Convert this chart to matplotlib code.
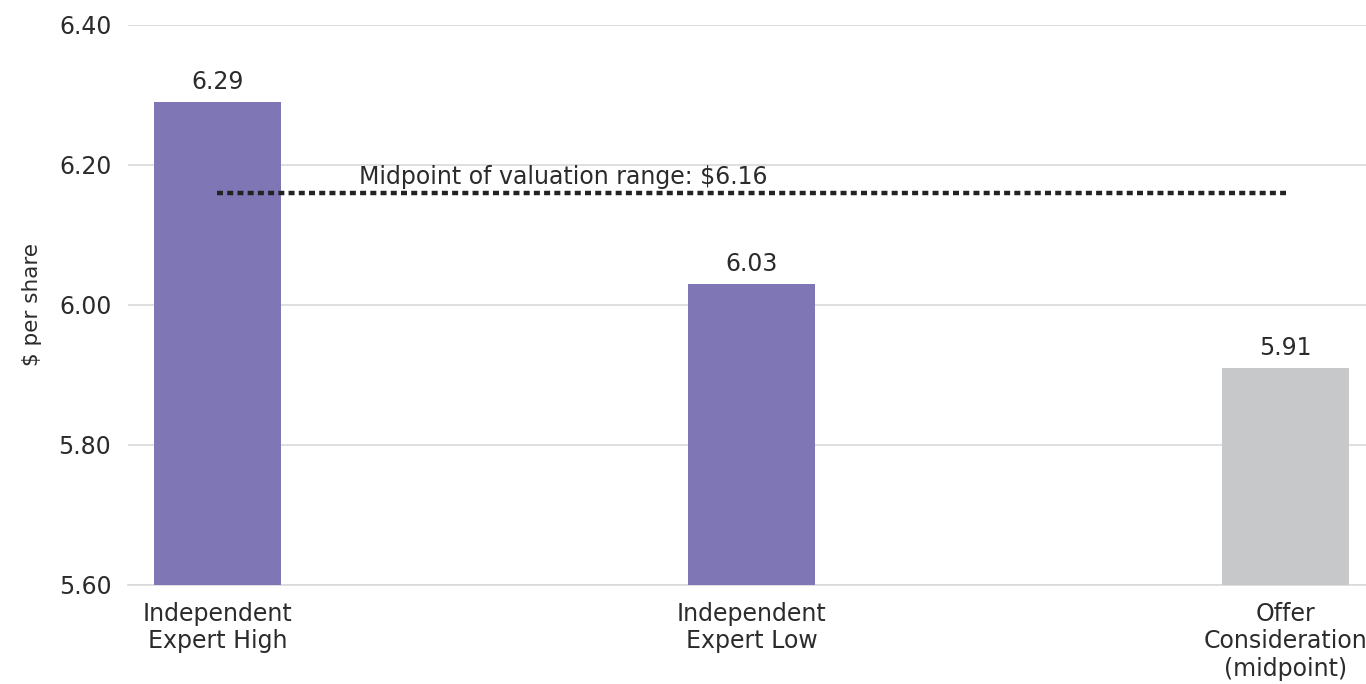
import matplotlib
matplotlib.use("Agg")
import matplotlib.pyplot as plt

# Data
categories = ["Independent\nExpert High", "Independent\nExpert Low", "Offer\nConsideration\n(midpoint)"]
values = [6.29, 6.03, 5.91]
bar_colors = ["#7f76b6", "#7f76b6", "#c7c8ca"]
midpoint_value = 6.16
midpoint_label = "Midpoint of valuation range: $6.16"
y_ticks = [5.60, 5.80, 6.00, 6.20, 6.40]
y_label = "$ per share"

plt.rcParams["font.family"] = ["DejaVu Sans"]
text_color = "#2b2b2b"
grid_color = "#d9d9d9"
fs = 17

fig = plt.figure(figsize=(13.66, 6.84), dpi=100)
W, H = 1366, 684
left_px, right_px, top_px, bottom_px = 128, 1375, 25, 585
ax = fig.add_axes([left_px / W, 1 - bottom_px / H,
                   (right_px - left_px) / W, (bottom_px - top_px) / H])

x = list(range(len(categories)))
bars = ax.bar(x, values, width=0.238, color=bar_colors, zorder=3)

ax.set_xlim(-0.1676, 2.1676)
ax.set_ylim(y_ticks[0], y_ticks[-1])
ax.set_yticks(y_ticks)
ax.set_yticklabels([f"{t:.2f}" for t in y_ticks], fontsize=fs, color=text_color)
ax.set_xticks(x)
ax.set_xticklabels(categories, fontsize=fs, color=text_color, linespacing=1.2)
ax.tick_params(axis="both", length=0)
ax.tick_params(axis="y", pad=12)
ax.tick_params(axis="x", pad=12)

ax.grid(axis="y", color=grid_color, linewidth=1.2, zorder=0)
ax.set_axisbelow(True)
for side in ["top", "right", "left"]:
    ax.spines[side].set_visible(False)
ax.spines["bottom"].set_color(grid_color)
ax.spines["bottom"].set_linewidth(1.2)

ax.set_ylabel(y_label, fontsize=fs - 1.5, color=text_color, labelpad=12)

# Value labels above each bar
for xi, v in zip(x, values):
    ax.annotate(f"{v:.2f}", (xi, v), xytext=(0, 6), textcoords="offset points",
                ha="center", va="bottom", fontsize=fs, color=text_color, zorder=4)

# Dotted midpoint line across the valuation range
ax.plot([x[0], x[-1]], [midpoint_value, midpoint_value], color="#222222",
        linewidth=3.2, linestyle=(0, (1.35, 0.95)), dash_capstyle="butt", zorder=4)
ax.annotate(midpoint_label, (0.265, midpoint_value), xytext=(0, 3),
            textcoords="offset points", ha="left", va="bottom",
            fontsize=fs, color=text_color, zorder=4)

fig.savefig("out.png", dpi=100)
